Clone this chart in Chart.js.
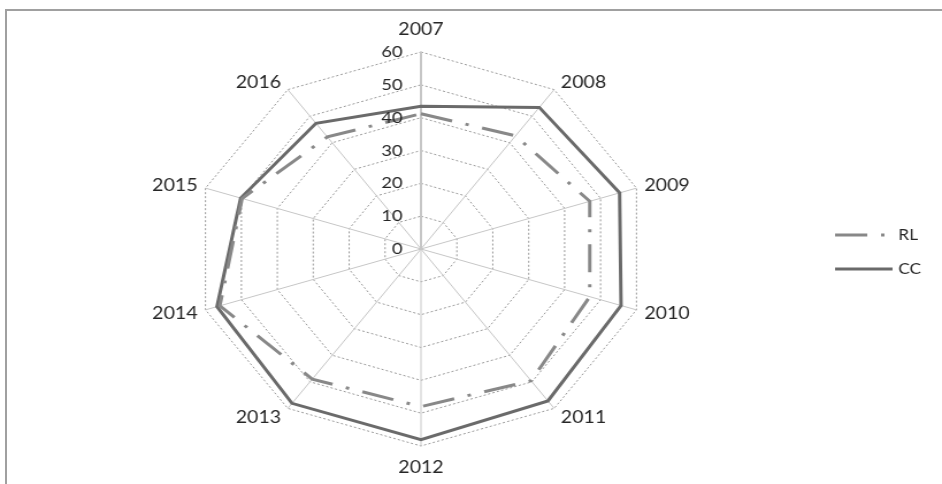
<!DOCTYPE html>
<html><head><meta charset="utf-8">
<script src="https://cdn.jsdelivr.net/npm/chart.js@4/dist/chart.umd.min.js"></script>
<style>
html,body{margin:0;padding:0;background:#fff;overflow:hidden;width:942px;height:484px}
#frame{position:absolute;left:5px;top:9px;width:945px;height:480px;border-top:2px solid #a0a0a0;border-left:2px solid #a0a0a0;box-sizing:border-box}
#wrap{position:absolute;left:0;top:0;width:819px;height:484px;transform:scaleX(1.15018);transform-origin:0 0}
</style></head><body>
<div id="frame"></div>
<div id="wrap"><canvas id="c"></canvas></div>
<script>
// ---- data ----
const categories = ['2007','2008','2009','2010','2011','2012','2013','2014','2015','2016'];
const rlValues = [41.2, 42.6, 47.0, 47.0, 49.6, 48.0, 49.0, 56.0, 49.8, 42.2];
const ccValues = [43.5, 53.3, 55.3, 55.7, 57.2, 58.1, 58.1, 56.8, 50.2, 47.3];
const seriesNames = ['RL', 'CC'];
const tickLabels = ['0','10','20','30','40','50','60'];

const FONT = 'Lato, "Open Sans", sans-serif';
const TEXT = '#262626';

const textPlugin = {
  id: 'textPlugin',
  afterDraw(chart) {
    const s = chart.scales.r;
    const ctx = chart.ctx;
    ctx.save();
    ctx.fillStyle = TEXT;
    // tick labels (left of vertical axis)
    ctx.font = '16px ' + FONT;
    ctx.textAlign = 'right';
    ctx.textBaseline = 'middle';
    tickLabels.forEach(t => {
      const d = s.getDistanceFromCenterForValue(Number(t));
      ctx.fillText(t, s.xCenter - 16, s.yCenter - d);
    });
    // category labels
    ctx.font = '17px ' + FONT;
    const R = s.drawingArea;
    categories.forEach((lab, i) => {
      const p = s.getPointPosition(i, R);
      const a = s.getIndexAngle(i);
      const sn = Math.sin(a), cs = Math.cos(a);
      let x = p.x, y = p.y;
      if (Math.abs(sn) < 0.01) {
        ctx.textAlign = 'center';
        y = p.y - cs * 22;
      } else {
        ctx.textAlign = sn > 0 ? 'left' : 'right';
        x = p.x + Math.sign(sn) * (4 + 3 * Math.abs(sn));
        y = p.y - cs * (cs > 0 ? 8.5 : 11);
      }
      ctx.textBaseline = 'middle';
      ctx.fillText(lab, x, y);
    });
    // legend
    const ys = [235, 269];
    chart.data.datasets.forEach((ds, k) => {
      const y = ys[k];
      ctx.save();
      ctx.strokeStyle = ds.borderColor;
      ctx.lineWidth = ds.borderWidth;
      ctx.setLineDash(ds.borderDash || []);
      ctx.beginPath();
      ctx.moveTo(726, y);
      ctx.lineTo(776, y);
      ctx.stroke();
      ctx.restore();
      ctx.font = '15px ' + FONT;
      ctx.textAlign = 'left';
      ctx.textBaseline = 'middle';
      ctx.fillStyle = TEXT;
      ctx.fillText(ds.label, 781, y);
    });
    ctx.restore();
  }
};

new Chart(document.getElementById('c'), {
  type: 'radar',
  data: {
    labels: categories,
    datasets: [
      { label: seriesNames[0], data: rlValues, borderColor: '#888888', borderWidth: 3,
        borderDash: [28, 12, 3, 12], fill: false, pointRadius: 0, tension: 0, backgroundColor: 'rgba(0,0,0,0)' },
      { label: seriesNames[1], data: ccValues, borderColor: '#6a6a6a', borderWidth: 3,
        fill: false, pointRadius: 0, tension: 0, backgroundColor: 'rgba(0,0,0,0)' }
    ]
  },
  options: {
    responsive: true,
    maintainAspectRatio: false,
    animation: false,
    layout: { padding: { top: 52, bottom: 37, left: 169, right: 255 } },
    plugins: { legend: { display: false }, tooltip: { enabled: false } },
    scales: {
      r: {
        min: 0, max: 60,
        ticks: { display: false, stepSize: 10 },
        pointLabels: { display: false },
        grid: { color: '#9a9a9a', lineWidth: 1 },
        border: { dash: [2, 2] },
        angleLines: { color: '#c6c6c6', lineWidth: c => c.index === 0 ? 2 : 1 }
      }
    }
  },
  plugins: [textPlugin]
});
</script>
</body></html>
